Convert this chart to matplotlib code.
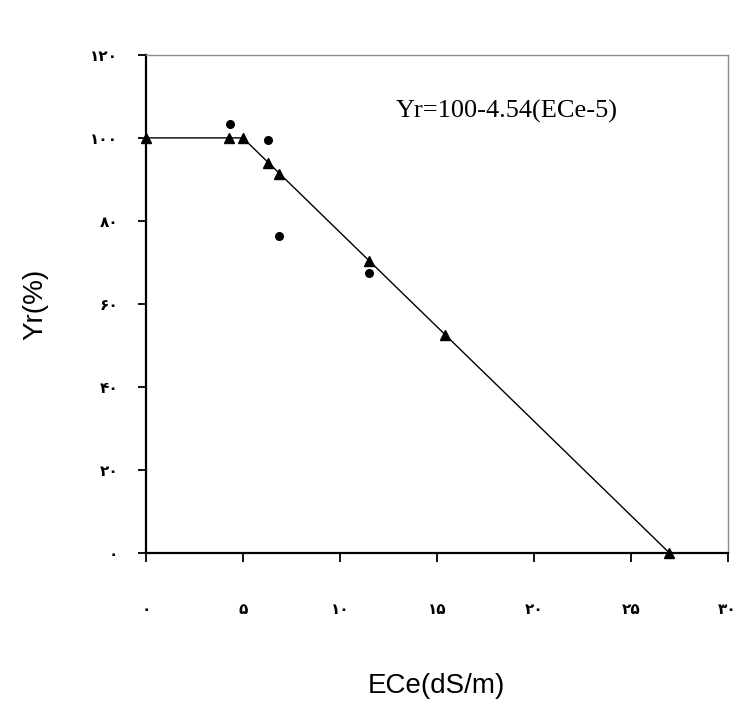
import matplotlib
matplotlib.use("Agg")
import matplotlib.pyplot as plt

# --- данные ---
tri_x = [0, 4.3, 5.0, 6.3, 6.85, 11.5, 15.4, 27.0]
tri_y = [100, 100, 100, 94, 91.3, 70.3, 52.5, 0]

dot_x = [4.35, 6.28, 6.86, 11.5]
dot_y = [103.4, 99.4, 76.4, 67.5]

line_x = [0, 5, 27.0]
line_y = [100, 100, 0]

x_ticks = [0, 5, 10, 15, 20, 25, 30]
x_labels = ["۰", "۵", "۱۰", "۱۵", "۲۰", "۲۵", "۳۰"]
y_ticks = [0, 20, 40, 60, 80, 100, 120]
y_labels = ["۰", "۲۰", "۴۰", "۶۰", "۸۰", "۱۰۰", "۱۲۰"]

equation = "Yr=100-4.54(ECe-5)"

# --- рисунок ---
fig = plt.figure(figsize=(7.41, 7.22), dpi=100)
ax = fig.add_axes([0.197, 0.234, 0.785, 0.690])

ax.plot(line_x, line_y, color="black", lw=1.0, zorder=2)
ax.plot(tri_x, tri_y, "^", color="black", ms=7, zorder=3, clip_on=False)
ax.plot(dot_x, dot_y, "o", color="black", ms=5.5, zorder=3)

ax.set_xlim(0, 30)
ax.set_ylim(0, 120)

ax.set_xticks(x_ticks)
ax.set_xticklabels(x_labels, fontfamily="DejaVu Sans", fontsize=11, fontweight="bold")
ax.set_yticks(y_ticks)
ax.set_yticklabels(y_labels, fontfamily="DejaVu Sans", fontsize=11, fontweight="bold")
ax.tick_params(axis="x", direction="out", length=6.5, width=1.3, pad=29)
ax.tick_params(axis="y", direction="out", length=6, width=1.3, pad=14)

for side in ["left", "bottom"]:
    ax.spines[side].set_linewidth(1.6)
    ax.spines[side].set_color("black")
for side in ["top", "right"]:
    ax.spines[side].set_linewidth(1.0)
    ax.spines[side].set_color("#8c8c8c")

ax.set_xlabel("ECe(dS/m)", fontfamily="Liberation Sans", fontsize=20, labelpad=40)
ax.set_ylabel("Yr(%)", fontfamily="Liberation Sans", fontsize=20, labelpad=30)

ax.text(12.9, 104.8, equation, fontfamily="Liberation Serif", fontsize=19,
        ha="left", va="baseline")

fig.savefig("out.png", dpi=100)
